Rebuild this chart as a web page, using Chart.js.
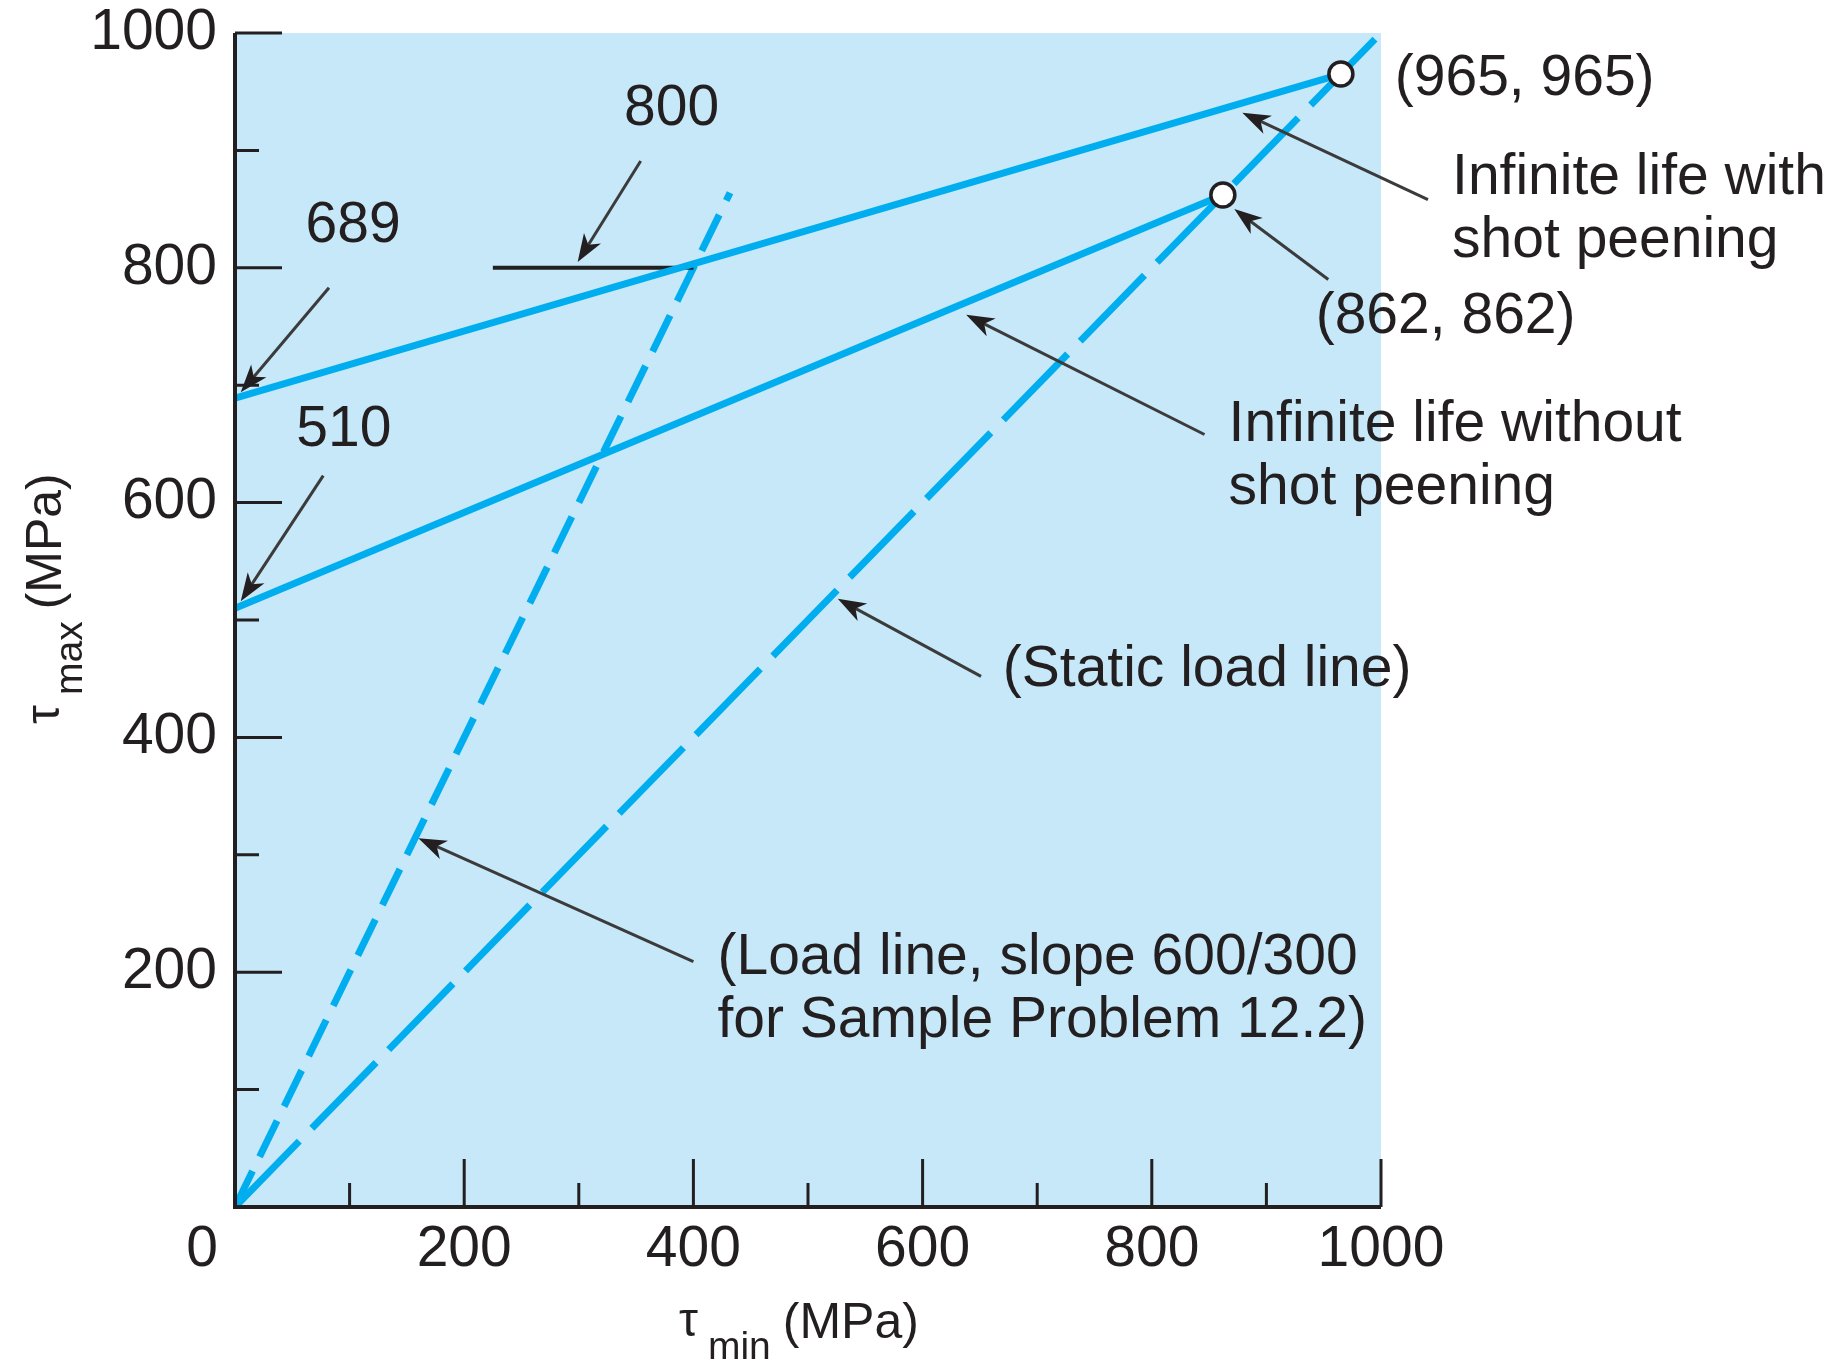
<!DOCTYPE html>
<html>
<head>
<meta charset="utf-8">
<title>Torsional fatigue diagram</title>
<script src="https://cdn.jsdelivr.net/npm/chart.js@4.4.1/dist/chart.umd.min.js"></script>
<style>
  html, body { margin: 0; padding: 0; background: #fff; }
  canvas { display: block; }
</style>
</head>
<body>
<canvas id="chart" width="1843" height="1362"></canvas>
<script>
// Axis ticks (MPa)
const majorTicks = [0, 200, 400, 600, 800, 1000];
const minorTicks = [100, 300, 500, 700, 900];

// Infinite-life lines, from the tau_max intercept to the static load line
const withPeeningX = [0, 965];
const withPeeningY = [689, 965];
const withoutPeeningX = [0, 862];
const withoutPeeningY = [510, 862];

// Static load line (tau_max = tau_min) and load line of slope 600/300
const staticLoadX = [0, 1000];
const staticLoadY = [0, 1000];
const sampleLoadX = [0, 432];
const sampleLoadY = [0, 864];

// 800 MPa level where the load line meets the shot peened line
const levelX = [225, 400];
const levelY = [800, 800];

// End points marked with open circles
const endPointsX = [965, 862];
const endPointsY = [965, 862];

const BLUE = '#00aeef';
const FILL = '#c6e8f9';
const INK = '#231f20';
const FONT = '"Liberation Sans", Arial, sans-serif';

// Callout texts with their leader arrows (data coordinates)
const callouts = [
    { text: ['689'], at: [103, 835], align: 'center', arrow: [[82, 783], [5, 694]] },
    { text: ['510'], at: [95, 662], align: 'center', arrow: [[77, 623], [5, 516]] },
    { text: ['800'], at: [381, 935], align: 'center', arrow: [[354, 891], [299, 805]] },
    { text: ['(965, 965)'], at: [1012, 961], align: 'left' },
    { text: ['Infinite life with', 'shot peening'], at: [1062, 876], align: 'left', arrow: [[1041, 858], [879, 932]] },
    { text: ['(862, 862)'], at: [943, 758], align: 'left', arrow: [[954, 790], [872, 850]] },
    { text: ['Infinite life without', 'shot peening'], at: [867, 666], align: 'left', arrow: [[846, 658], [638, 760]] },
    { text: ['(Static load line)'], at: [670, 457], align: 'left', arrow: [[651, 452], [526, 518]] },
    { text: ['(Load line, slope 600/300', 'for Sample Problem 12.2)'], at: [421, 212], align: 'left', arrow: [[400, 209], [160, 314]] }
];

function toPoints(xs, ys) {
    return xs.map((x, i) => ({ x: x, y: ys[i] }));
}

function drawArrow(ctx, x1, y1, x2, y2) {
    const ang = Math.atan2(y2 - y1, x2 - x1);
    const len = 28, half = 10;
    ctx.save();
    ctx.strokeStyle = '#3b3b3b';
    ctx.fillStyle = INK;
    ctx.lineWidth = 3;
    ctx.beginPath();
    ctx.moveTo(x1, y1);
    ctx.lineTo(x2 - Math.cos(ang) * len * 0.6, y2 - Math.sin(ang) * len * 0.6);
    ctx.stroke();
    ctx.translate(x2, y2);
    ctx.rotate(ang);
    ctx.beginPath();
    ctx.moveTo(0, 0);
    ctx.lineTo(-len, -half);
    ctx.lineTo(-len * 0.72, 0);
    ctx.lineTo(-len, half);
    ctx.closePath();
    ctx.fill();
    ctx.restore();
}

// tau with a subscript followed by the unit, drawn from a left baseline origin
function drawTauTitle(ctx, sub) {
    ctx.textAlign = 'left';
    ctx.textBaseline = 'alphabetic';
    ctx.font = '48px ' + FONT;
    ctx.fillText('τ', 0, -2);
    let x = ctx.measureText('τ').width + 10;
    ctx.font = '39px ' + FONT;
    ctx.fillText(sub, x, 21);
    x += ctx.measureText(sub).width + 12;
    ctx.font = '50px ' + FONT;
    ctx.fillText('(MPa)', x, 0);
}

const framePlugin = {
    id: 'frame',
    beforeDatasetsDraw(chart) {
        const { ctx, chartArea: a } = chart;
        ctx.save();
        ctx.fillStyle = FILL;
        ctx.fillRect(a.left, a.top, a.right - a.left, a.bottom - a.top);
        ctx.restore();
    },
    afterDatasetsDraw(chart) {
        const { ctx, chartArea: a } = chart;
        const xs = chart.scales.x, ys = chart.scales.y;
        ctx.save();

        // axis lines
        ctx.strokeStyle = INK;
        ctx.lineWidth = 4;
        ctx.beginPath();
        ctx.moveTo(a.left, a.top);
        ctx.lineTo(a.left, a.bottom);
        ctx.lineTo(a.right, a.bottom);
        ctx.stroke();

        // inward ticks
        ctx.lineWidth = 3;
        ctx.beginPath();
        majorTicks.forEach(v => {
            const px = xs.getPixelForValue(v), py = ys.getPixelForValue(v);
            if (v > 0) {
                ctx.moveTo(px, a.bottom); ctx.lineTo(px, a.bottom - 48);
                ctx.moveTo(a.left, py); ctx.lineTo(a.left + 47, py);
            }
        });
        minorTicks.forEach(v => {
            const px = xs.getPixelForValue(v), py = ys.getPixelForValue(v);
            ctx.moveTo(px, a.bottom); ctx.lineTo(px, a.bottom - 24);
            ctx.moveTo(a.left, py); ctx.lineTo(a.left + 24, py);
        });
        ctx.stroke();

        // tick labels
        ctx.fillStyle = INK;
        ctx.font = '57px ' + FONT;
        ctx.textBaseline = 'middle';
        ctx.textAlign = 'center';
        majorTicks.forEach(v => {
            const px = v === 0 ? a.left - 33 : xs.getPixelForValue(v);
            ctx.fillText(String(v), px, a.bottom + 43);
        });
        ctx.textAlign = 'right';
        majorTicks.filter(v => v > 0).forEach(v => {
            ctx.fillText(String(v), a.left - 18, ys.getPixelForValue(v));
        });

        // axis titles
        ctx.save();
        ctx.translate(679, 1338);
        drawTauTitle(ctx, 'min');
        ctx.restore();
        ctx.save();
        ctx.translate(61, 724);
        ctx.rotate(-Math.PI / 2);
        drawTauTitle(ctx, 'max');
        ctx.restore();

        // callouts
        callouts.forEach(c => {
            if (c.arrow) {
                const [p, q] = c.arrow;
                drawArrow(ctx, xs.getPixelForValue(p[0]), ys.getPixelForValue(p[1]),
                    xs.getPixelForValue(q[0]), ys.getPixelForValue(q[1]));
            }
            ctx.fillStyle = INK;
            ctx.font = '57px ' + FONT;
            ctx.textAlign = c.align;
            ctx.textBaseline = 'middle';
            const tx = xs.getPixelForValue(c.at[0]);
            const ty = ys.getPixelForValue(c.at[1]);
            c.text.forEach((line, i) => ctx.fillText(line, tx, ty + i * 63));
        });

        ctx.restore();
    }
};

const lineStyle = { showLine: true, pointRadius: 0, fill: false, borderWidth: 7, borderColor: BLUE };

new Chart(document.getElementById('chart'), {
    type: 'scatter',
    data: {
        datasets: [
            {
                label: 'End points',
                data: toPoints(endPointsX, endPointsY),
                showLine: false,
                pointRadius: 12,
                pointBackgroundColor: '#ffffff',
                pointBorderColor: INK,
                pointBorderWidth: 3.5
            },
            Object.assign({ label: 'Infinite life with shot peening', data: toPoints(withPeeningX, withPeeningY) }, lineStyle),
            Object.assign({ label: 'Infinite life without shot peening', data: toPoints(withoutPeeningX, withoutPeeningY) }, lineStyle),
            Object.assign({ label: '800 MPa', data: toPoints(levelX, levelY) }, lineStyle, { borderColor: INK, borderWidth: 4 }),
            Object.assign({ label: 'Static load line', data: toPoints(staticLoadX, staticLoadY) }, lineStyle, { borderDash: [92, 18] }),
            Object.assign({ label: 'Load line, slope 600/300', data: toPoints(sampleLoadX, sampleLoadY) }, lineStyle, { borderDash: [40, 16] })
        ]
    },
    options: {
        responsive: false,
        animation: false,
        layout: { padding: { left: 235, right: 462, top: 33, bottom: 155 } },
        plugins: { legend: { display: false }, tooltip: { enabled: false } },
        scales: {
            x: { type: 'linear', min: 0, max: 1000, display: false },
            y: { type: 'linear', min: 0, max: 1000, display: false }
        }
    },
    plugins: [framePlugin]
});
</script>
</body>
</html>
